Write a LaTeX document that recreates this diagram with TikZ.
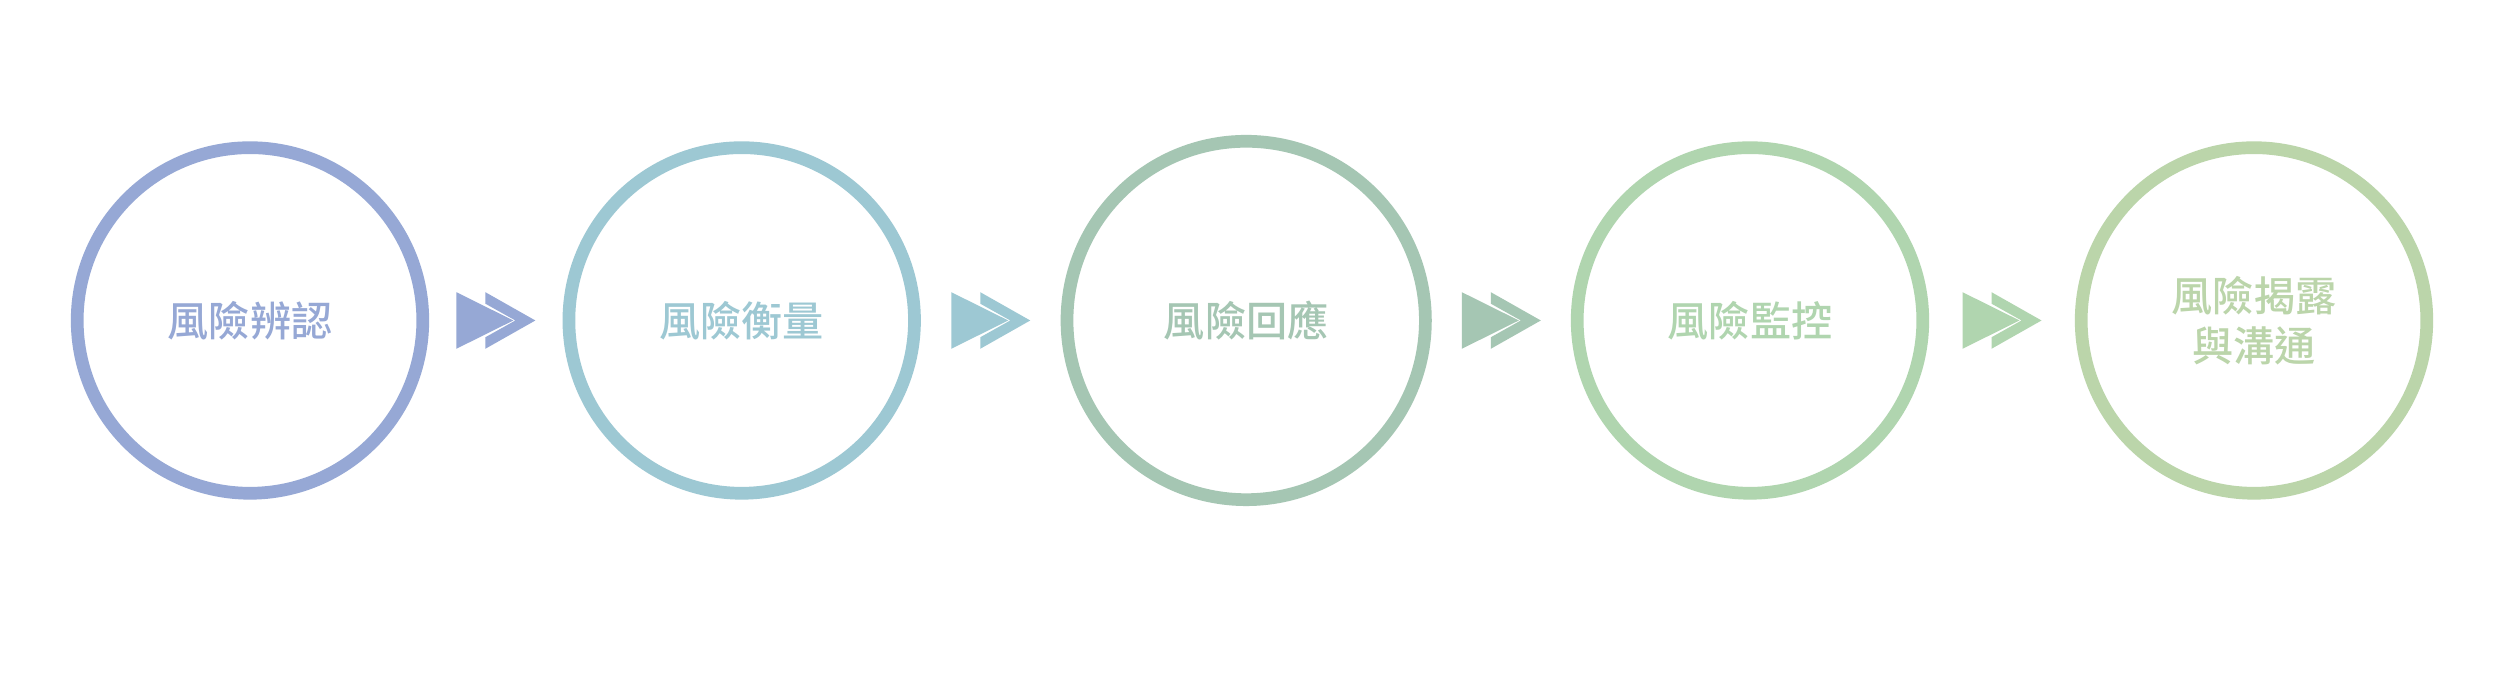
\documentclass[tikz,border=0pt]{standalone}
\usepackage{fontspec}
\newfontfamily\cjk{Noto Sans CJK TC}[UprightFont={* Medium}]
\usetikzlibrary{calc}
\definecolor{idblue}{HTML}{96A8D5}
\definecolor{meteal}{HTML}{9DC8D3}
\definecolor{resage}{HTML}{A5C6B3}
\definecolor{mogreen}{HTML}{B0D5AF}
\definecolor{coleaf}{HTML}{BBD5AA}

\begin{document}
\begin{tikzpicture}[x=0.01cm,y=0.01cm,
  stage/.style={circle,draw=#1,text=#1,line width=0.127cm,minimum size=3.454cm,inner sep=0pt,
    align=center,font=\cjk\fontsize{11.7}{14.2}\selectfont},
  pics/fwd/.style={code={
    \fill[#1] (-39.5,28.3)--(17.5,0)--(-39.5,-28.3)--cycle;
    \fill[#1] (-10.5,28.3)--(39.5,0)--(-10.5,-28.3)--(-10.5,-16.8)--(19.5,0)--(-10.5,16.8)--cycle;
  }}]

\fill[white] (0,0) rectangle (2505,680);
\useasboundingbox (0,0) rectangle (2505,680);

\node[stage=idblue] (ident) at (250,359.5) {風險辨認};
\node[stage=meteal] (measure) at (741.7,359.5) {風險衡量};
\node[stage=resage,minimum size=3.582cm] (respond) at (1246.2,359.5) {風險回應};
\node[stage=mogreen] (monitor) at (1750,359.5) {風險監控};
\node[stage=coleaf] (comm) at (2254,359.5) {風險揭露\\與溝通};

% double arrows between the stages
\pic at ($(ident.east)!0.5!(measure.west)$) {fwd=idblue};
\pic at ($(measure.east)!0.5!(respond.west)$) {fwd=meteal};
\pic at ($(respond.east)!0.5!(monitor.west)$) {fwd=resage};
\pic at ($(monitor.east)!0.5!(comm.west)$) {fwd=mogreen};

\end{tikzpicture}
\end{document}
